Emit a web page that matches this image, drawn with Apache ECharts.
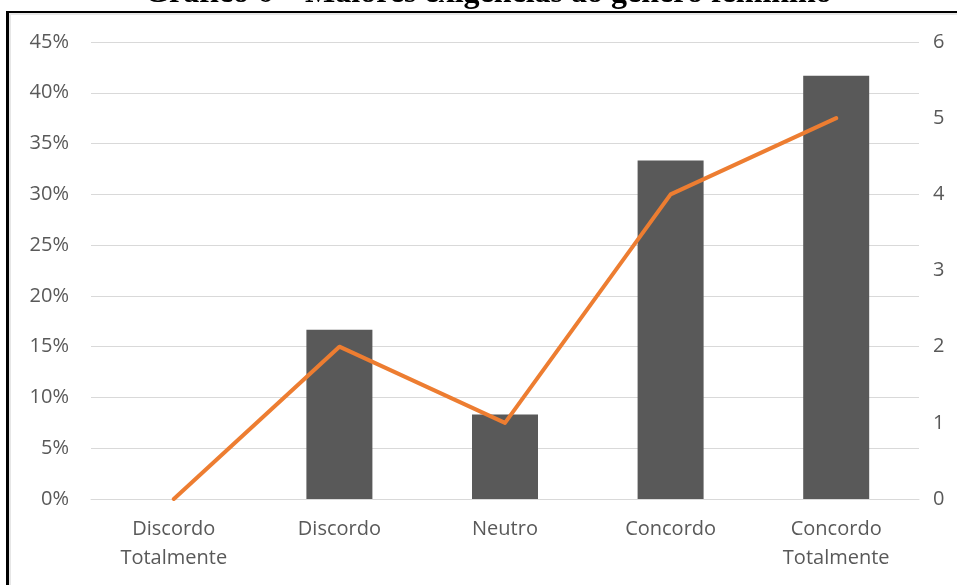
<!DOCTYPE html>
<html>
<head>
<meta charset="utf-8">
<script src="https://cdn.jsdelivr.net/npm/echarts@6/dist/echarts.min.js"></script>
<style>
  html, body { margin: 0; padding: 0; background: #fff; }
  #chart { width: 957px; height: 585px; }
</style>
</head>
<body>
<div id="chart"></div>
<script>
// Answers to the statement, share of respondents (bars) and counts (line)
const categories = ['Discordo\nTotalmente', 'Discordo', 'Neutro', 'Concordo', 'Concordo\nTotalmente'];
const percentValues = [0, 16.67, 8.33, 33.33, 41.67];
const countValues = [0, 2, 1, 4, 5];
const titleText = 'Gráfico 6 – Maiores exigências ao gênero feminino';

const labelFont = 'Open Sans';
const chart = echarts.init(document.getElementById('chart'), null, { renderer: 'canvas' });

chart.setOption({
  animation: false,
  backgroundColor: '#ffffff',
  grid: { left: 91, right: 38, top: 42, bottom: 86 },
  xAxis: {
    type: 'category',
    data: categories,
    axisLine: { show: true, lineStyle: { color: '#d9d9d9', width: 1 } },
    axisTick: { show: false },
    axisLabel: {
      color: '#595959',
      fontFamily: labelFont,
      fontSize: 20,
      lineHeight: 29,
      margin: 16,
      interval: 0
    }
  },
  yAxis: [
    {
      type: 'value',
      min: 0,
      max: 45,
      interval: 5,
      axisLine: { show: false },
      axisTick: { show: false },
      splitLine: { lineStyle: { color: '#d9d9d9', width: 1 } },
      axisLabel: {
        color: '#595959',
        fontFamily: labelFont,
        fontSize: 20,
        margin: 22,
        formatter: v => v + '%'
      }
    },
    {
      type: 'value',
      min: 0,
      max: 6,
      interval: 1,
      position: 'right',
      axisLine: { show: false },
      axisTick: { show: false },
      splitLine: { show: false },
      axisLabel: {
        color: '#595959',
        fontFamily: labelFont,
        fontSize: 20,
        margin: 14
      }
    }
  ],
  series: [
    {
      type: 'bar',
      data: percentValues,
      yAxisIndex: 0,
      barWidth: 66,
      itemStyle: { color: '#595959' }
    },
    {
      type: 'line',
      data: countValues,
      yAxisIndex: 1,
      symbol: 'none',
      lineStyle: { color: '#ED7D31', width: 4, cap: 'round', join: 'round' },
      z: 5
    }
  ],
  graphic: [
    {
      type: 'text',
      x: 488,
      y: -22,
      style: {
        text: titleText,
        align: 'center',
        verticalAlign: 'top',
        fontFamily: '"Liberation Serif", "Times New Roman", serif',
        fontWeight: 'bold',
        fontSize: 32,
        fill: '#000000'
      },
      z: 10
    },
    // frame edges
    { type: 'rect', shape: { x: 6, y: 11, width: 951, height: 2 }, style: { fill: '#000000' }, z: 11 },
    { type: 'rect', shape: { x: 6, y: 11, width: 3, height: 574 }, style: { fill: '#000000' }, z: 11 },
    { type: 'rect', shape: { x: 9, y: 13, width: 948, height: 2 }, style: { fill: '#e6e6e6' }, z: 11 },
    { type: 'rect', shape: { x: 9, y: 13, width: 2, height: 572 }, style: { fill: '#e6e6e6' }, z: 11 }
  ]
});
</script>
</body>
</html>
